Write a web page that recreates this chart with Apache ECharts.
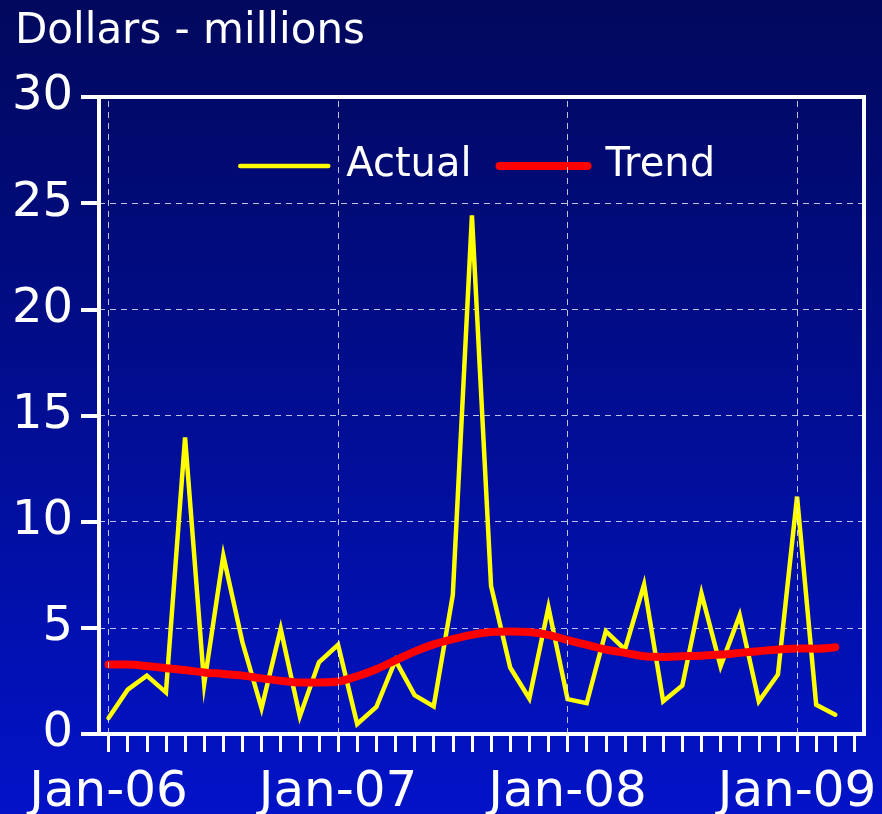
<!DOCTYPE html>
<html>
<head>
<meta charset="utf-8">
<script src="https://cdn.jsdelivr.net/npm/echarts@6/dist/echarts.min.js"></script>
<style>
html,body{margin:0;padding:0;}
#chart{width:882px;height:814px;}
</style>
</head>
<body>
<div id="chart"></div>
<script>
const categories = [
  'Jan-06','Feb-06','Mar-06','Apr-06','May-06','Jun-06','Jul-06','Aug-06','Sep-06','Oct-06','Nov-06','Dec-06',
  'Jan-07','Feb-07','Mar-07','Apr-07','May-07','Jun-07','Jul-07','Aug-07','Sep-07','Oct-07','Nov-07','Dec-07',
  'Jan-08','Feb-08','Mar-08','Apr-08','May-08','Jun-08','Jul-08','Aug-08','Sep-08','Oct-08','Nov-08','Dec-08',
  'Jan-09','Feb-09','Mar-09','Apr-09'
];
const yearLabels = ['Jan-06','Jan-07','Jan-08','Jan-09'];
const actual = [
  0.75, 2.09, 2.75, 1.96, 13.97, 2.35, 8.4, 4.32, 1.21, 4.95, 0.83, 3.38,
  4.2, 0.47, 1.27, 3.47, 1.83, 1.3, 6.55, 24.43, 6.97, 3.13, 1.67, 5.97,
  1.64, 1.45, 4.84, 3.98, 7.04, 1.54, 2.28, 6.62, 3.19, 5.6, 1.54, 2.8,
  11.18, 1.38, 0.91
];
const trend = [
  3.27, 3.27, 3.2, 3.1, 3.01, 2.9, 2.83, 2.75, 2.62, 2.51, 2.43, 2.43,
  2.47, 2.72, 3.05, 3.47, 3.88, 4.22, 4.47, 4.67, 4.8, 4.83, 4.8, 4.67,
  4.42, 4.2, 3.98, 3.82, 3.66, 3.63, 3.66, 3.69, 3.74, 3.82, 3.9, 3.98,
  4.03, 4.02, 4.09
];
const seriesNames = ['Actual', 'Trend'];

const FONT = 'DejaVu Sans, Verdana, sans-serif';
const gridLine = {color: 'rgba(255,255,255,0.75)', width: 1, type: [6, 5]};

const chart = echarts.init(document.getElementById('chart'));
chart.setOption({
  animation: false,
  backgroundColor: {
    type: 'linear', x: 0, y: 0, x2: 0, y2: 1,
    colorStops: [{offset: 0, color: '#01085c'}, {offset: 1, color: '#0213c8'}]
  },
  title: {
    text: 'Dollars - millions',
    left: 10, top: 6,
    textStyle: {color: '#fff', fontSize: 42, fontWeight: 'normal', fontFamily: FONT}
  },
  legend: {
    data: seriesNames,
    left: 233, top: 141,
    itemWidth: 88, itemHeight: 40, itemGap: 24,
    itemStyle: {opacity: 0},
    lineStyle: {width: 'inherit', cap: 'round'},
    textStyle: {color: '#fff', fontSize: 40, fontFamily: FONT, padding: [0, 0, 0, 13]}
  },
  grid: {
    left: 99, right: 18, top: 97, bottom: 80,
    outerBoundsMode: 'none',
    containLabel: false,
    show: true, borderColor: '#fff', borderWidth: 4, backgroundColor: 'transparent'
  },
  xAxis: {
    type: 'category',
    data: categories,
    boundaryGap: true,
    axisLine: {lineStyle: {color: '#fff', width: 4}},
    axisTick: {show: true, alignWithLabel: true, interval: 0, length: 18, lineStyle: {color: '#fff', width: 3}},
    axisLabel: {
      interval: function (i, v) { return yearLabels.indexOf(v) >= 0; },
      color: '#fff', fontSize: 50, fontFamily: FONT, margin: 34
    },
    splitLine: {show: false}
  },
  yAxis: {
    type: 'value',
    min: 0, max: 30, interval: 5,
    axisLine: {show: true, lineStyle: {color: '#fff', width: 4}},
    axisTick: {show: true, length: 18, lineStyle: {color: '#fff', width: 4}},
    axisLabel: {color: '#fff', fontSize: 48, fontFamily: FONT, margin: 26},
    splitLine: {show: true, lineStyle: gridLine}
  },
  series: [
    {
      name: 'Vertical grid',
      type: 'line',
      data: [],
      z: 1,
      markLine: {
        silent: true,
        symbol: 'none',
        label: {show: false},
        lineStyle: gridLine,
        data: yearLabels.map(function (c) { return {xAxis: c}; })
      }
    },
    {
      name: seriesNames[0],
      type: 'line',
      data: actual,
      symbol: 'none',
      z: 3,
      lineStyle: {color: '#ffff00', width: 4.5, join: 'miter', cap: 'round'},
      itemStyle: {color: '#ffff00'}
    },
    {
      name: seriesNames[1],
      type: 'line',
      data: trend,
      symbol: 'none',
      smooth: 0.3,
      z: 4,
      lineStyle: {color: '#ff0000', width: 8, cap: 'round'},
      itemStyle: {color: '#ff0000'}
    }
  ]
});
</script>
</body>
</html>
